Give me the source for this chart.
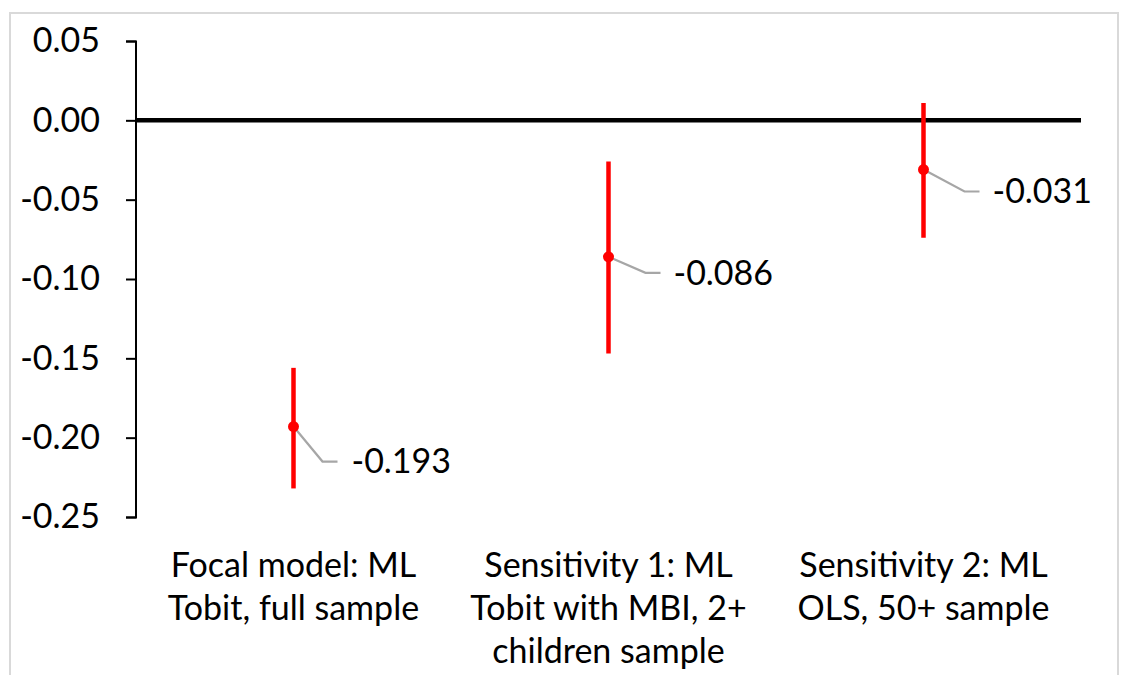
<!DOCTYPE html>
<html lang="en">
  <head>
    <meta charset="utf-8" />
    <title>Estimates with confidence intervals</title>
    <script type="text/javascript" src="https://cdn.jsdelivr.net/npm/d3@7"></script>
    <style type="text/css">
      body { margin: 0; background: #fff; }
      text { font-family: Lato, "Open Sans", sans-serif; fill: #000; }
    </style>
  </head>
  <body>
    <script type="text/javascript">
      // data
      var categories = ["Focal model", "Sensitivity 1", "Sensitivity 2"];
      var categoryLines = [
        ["Focal model: ML", "Tobit, full sample"],
        ["Sensitivity 1: ML", "Tobit with MBI, 2+", "children sample"],
        ["Sensitivity 2: ML", "OLS, 50+ sample"]
      ];
      var estimates = [-0.193, -0.086, -0.031];
      var lower = [-0.232, -0.147, -0.074];
      var upper = [-0.156, -0.026, 0.011];
      var yTicks = [0.05, 0, -0.05, -0.1, -0.15, -0.2, -0.25];

      var w = 1121;
      var h = 675;
      var fontSize = 34;

      var svg = d3
        .select("body")
        .append("svg")
        .attr("width", w)
        .attr("height", h);

      // outer chart frame (bottom edge cut off in the picture)
      svg
        .append("path")
        .attr("d", "M10,700 L10,13 L1118,13 L1118,700")
        .attr("fill", "none")
        .attr("stroke", "#d9d9d9")
        .attr("stroke-width", 2);

      var xScale = d3
        .scaleBand()
        .domain(categories)
        .range([136, 1081]);

      var yScale = d3
        .scaleLinear()
        .domain([-0.25, 0.05])
        .range([517, 41]);

      // y axis
      var yAxis = d3
        .axisLeft(yScale)
        .tickValues(yTicks)
        .tickSize(10)
        .tickPadding(26)
        .tickFormat(d3.format(".2f"));

      var gy = svg
        .append("g")
        .attr("transform", "translate(136,0)")
        .call(yAxis);
      gy.select(".domain").attr("stroke", "#000").attr("stroke-width", 2).attr("d", "M-10,41.5H0V517.5H-10");
      gy.selectAll(".tick line").attr("stroke", "#000").attr("stroke-width", 2);
      gy.selectAll(".tick text")
        .attr("font-size", fontSize)
        .attr("font-family", "Lato, sans-serif")
        .attr("fill", "#000")
        .text(function (d) {
          return d3.format(".2f")(d).replace("−", "-");
        });

      // zero line
      svg
        .append("line")
        .attr("x1", 136)
        .attr("x2", 1081)
        .attr("y1", yScale(0))
        .attr("y2", yScale(0))
        .attr("stroke", "#000")
        .attr("stroke-width", 4.5);

      var cx = function (i) {
        return xScale(categories[i]) + xScale.bandwidth() / 2;
      };

      // error bars
      svg
        .selectAll(".err")
        .data(estimates)
        .enter()
        .append("line")
        .attr("class", "err")
        .attr("x1", function (d, i) { return cx(i); })
        .attr("x2", function (d, i) { return cx(i); })
        .attr("y1", function (d, i) { return yScale(upper[i]); })
        .attr("y2", function (d, i) { return yScale(lower[i]); })
        .attr("stroke", "#ff0000")
        .attr("stroke-width", 4.5);

      // leader lines for data labels
      svg
        .selectAll(".leader")
        .data(estimates)
        .enter()
        .append("polyline")
        .attr("class", "leader")
        .attr("points", function (d, i) {
          var x = cx(i), y = yScale(d);
          var yl = y + (i === 0 ? 35 : i === 1 ? 16 : 22);
          var xb = x + (i === 0 ? 29 : i === 1 ? 37 : 41);
          return [x, y, xb, yl, xb + 15, yl].join(",");
        })
        .attr("fill", "none")
        .attr("stroke", "#a6a6a6")
        .attr("stroke-width", 2.2);

      svg
        .selectAll(".dot")
        .data(estimates)
        .enter()
        .append("circle")
        .attr("class", "dot")
        .attr("cx", function (d, i) { return cx(i); })
        .attr("cy", function (d) { return yScale(d); })
        .attr("r", 5.5)
        .attr("fill", "#ff0000");

      svg
        .selectAll(".val")
        .data(estimates)
        .enter()
        .append("text")
        .attr("class", "val")
        .attr("x", function (d, i) { return cx(i) + (i === 0 ? 58 : i === 1 ? 65 : 69); })
        .attr("y", function (d, i) { return yScale(d) + (i === 0 ? 35 : i === 1 ? 16 : 22); })
        .attr("dy", "0.35em")
        .attr("font-size", fontSize)
        .text(function (d) { return d3.format(".3f")(d).replace("−", "-"); });

      // category labels
      var cats = svg
        .selectAll(".cat")
        .data(categoryLines)
        .enter()
        .append("text")
        .attr("class", "cat")
        .attr("text-anchor", "middle")
        .attr("font-size", fontSize);

      cats
        .selectAll("tspan")
        .data(function (d, i) {
          return d.map(function (s) { return { s: s, i: i }; });
        })
        .enter()
        .append("tspan")
        .attr("x", function (d) { return cx(d.i); })
        .attr("y", function (d, j) { return 577 + j * 43; })
        .text(function (d) { return d.s; });
    </script>
  </body>
</html>
